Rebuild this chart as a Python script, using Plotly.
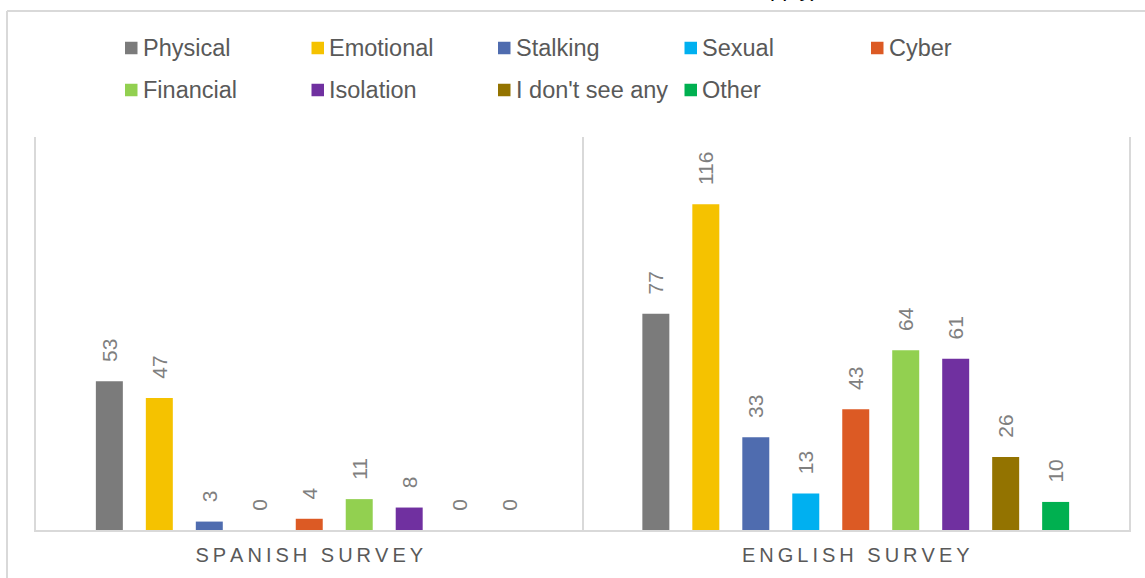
import plotly.graph_objects as go

# Survey groups and abuse categories
surveys = ["SPANISH SURVEY", "ENGLISH SURVEY"]
categories = ["Physical", "Emotional", "Stalking", "Sexual", "Cyber",
              "Financial", "Isolation", "I don't see any", "Other"]

# Number of responses per category (Spanish survey, English survey)
physical = [53, 77]
emotional = [47, 116]
stalking = [3, 33]
sexual = [0, 13]
cyber = [4, 43]
financial = [11, 64]
isolation = [8, 61]
dont_see_any = [0, 26]
other = [0, 10]

series_values = [physical, emotional, stalking, sexual, cyber,
                 financial, isolation, dont_see_any, other]
colors = ["#7b7b7b", "#f5c200", "#4f6caf", "#00b0f0", "#dc5a24",
          "#92d050", "#7030a0", "#937300", "#00b050"]

W, H = 1145, 578
FONT = "Liberation Sans, Arial, sans-serif"

# plot area in pixels
PL, PR, PT, PB = 36, 1129, 137, 530
PW, PH = PR - PL, PB - PT


def px_x(x):
    return (x - PL) / PW


def px_y(y):
    return (PB - y) / PH


def spaced(s):
    # widen the tracking of the category labels
    return "\u2009".join(list(s))


fig = go.Figure()
for name, vals, col in zip(categories, series_values, colors):
    fig.add_trace(go.Bar(
        x=surveys, y=vals, name=name,
        marker=dict(color=col, line=dict(width=0)),
        texttemplate="\u2002\u00a0%{y}",
        textposition="outside", textangle=-90, constraintext="none",
        textfont=dict(family=FONT, size=21, color="#7f7f7f"),
        cliponaxis=False, showlegend=False,
    ))

shapes = [
    # outer chart frame (left and top edges)
    dict(type="line", xref="paper", yref="paper",
         x0=px_x(7), x1=px_x(7), y0=px_y(11), y1=px_y(600),
         line=dict(color="#d9d9d9", width=2)),
    dict(type="line", xref="paper", yref="paper",
         x0=px_x(7), x1=px_x(1160), y0=px_y(11), y1=px_y(11),
         line=dict(color="#d9d9d9", width=2)),
]
annotations = [
    # chart title, mostly above the top edge of the page
    dict(text="(Check all<br>that apply)", xref="paper", yref="paper",
         x=px_x(823), xanchor="right", align="right",
         y=px_y(3.5), yanchor="bottom",
         showarrow=False,
         font=dict(family=FONT, size=22, color="black", style="italic"),
         ),
]

# Legend: two rows of five columns, drawn as squares + labels
col_x0, col_step = 125, 186.5
row_y = [48, 90]
sq = 12.5
for i, (name, col) in enumerate(zip(categories, colors)):
    r, c = divmod(i, 5)
    x0 = col_x0 + c * col_step
    yc = row_y[r]
    shapes.append(dict(
        type="rect", xref="paper", yref="paper",
        x0=px_x(x0), x1=px_x(x0 + sq),
        y0=px_y(yc - sq / 2), y1=px_y(yc + sq / 2),
        fillcolor=col, line=dict(width=0),
    ))
    annotations.append(dict(
        text=name, xref="paper", yref="paper",
        x=px_x(x0 + sq + 3), xanchor="left",
        y=px_y(yc), yanchor="middle",
        showarrow=False,
        font=dict(family=FONT, size=23.5, color="#595959"),
    ))

fig.update_layout(
    width=W, height=H,
    margin=dict(l=PL, r=W - PR, t=PT, b=H - PB),
    paper_bgcolor="white", plot_bgcolor="white",
    barmode="group", bargap=0.177, bargroupgap=0.46,
    font=dict(family=FONT, color="#595959"),
    showlegend=False,
    xaxis=dict(
        type="category",
        tickmode="array", tickvals=surveys,
        ticktext=[spaced(s) for s in surveys],
        tickfont=dict(family=FONT, size=20, color="#595959"),
        ticklabelstandoff=6,
        showline=True, linecolor="#d9d9d9", linewidth=1.5,
        tickson="boundaries", ticks="", showgrid=True,
        gridcolor="#d9d9d9", gridwidth=1.5,
        range=[-0.5, 1.5], fixedrange=True,
    ),
    yaxis=dict(
        range=[0, 140], showticklabels=False, showgrid=False,
        zeroline=False, showline=True, mirror=True,
        linecolor="#d9d9d9", linewidth=1.5, ticks="",
    ),
    shapes=shapes,
    annotations=annotations,
)

fig.write_html("out.html")
